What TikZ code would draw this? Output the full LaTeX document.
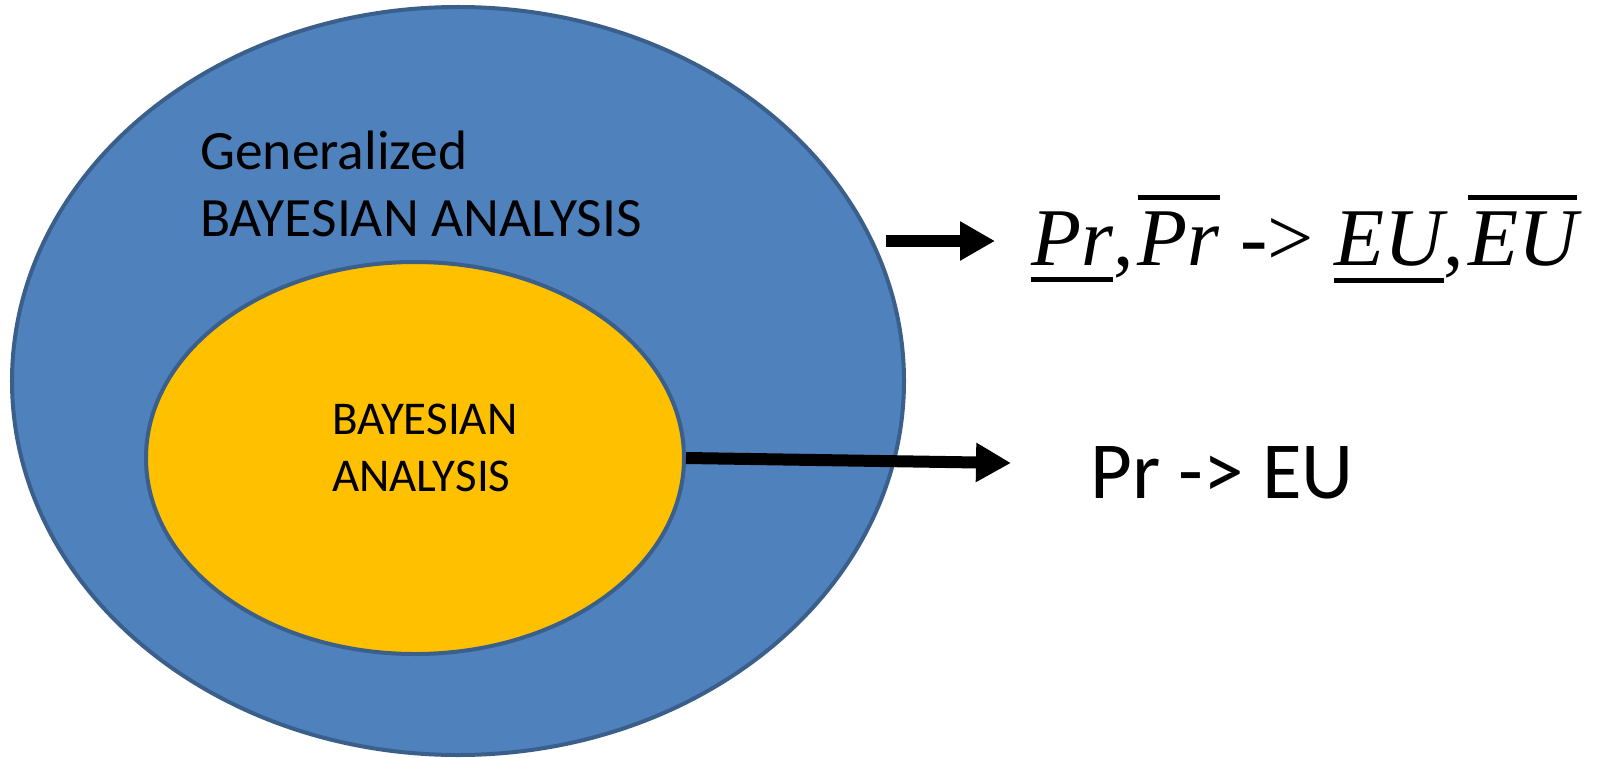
\documentclass[tikz,border=0pt]{standalone}
\usepackage{fontspec}
\setmainfont{Carlito}
\newfontfamily\formulafont{Liberation Serif}
\usetikzlibrary{shapes.geometric,arrows.meta}

\definecolor{outerblue}{HTML}{4F81BD}
\definecolor{innergold}{HTML}{FFC000}
\definecolor{rimblue}{HTML}{3A5F8B}

% bars under / over a piece of the formula
\newcommand\lowbar[1]{\vtop{\hbox{#1}\kern 12bp\hrule height 5bp}}
\newcommand\highbar[1]{\vbox{\hrule height 5bp\kern 11bp\hbox{#1}}}

\tikzset{
  setfield/.style={ellipse, draw=rimblue, line width=4bp, inner sep=0pt},
  fatarrow/.style={line width=12bp, -{Triangle[length=35bp,width=37bp]}},
  label/.style={inner sep=0pt, align=left, font=#1},
}

\begin{document}
\begin{tikzpicture}[x=1bp, y=-1bp]
\useasboundingbox (0,0) rectangle (1597,758);

% nested sets
\node[setfield, fill=outerblue, minimum width=892bp, minimum height=748bp] (outer) at (458,381) {};
\node[setfield, fill=innergold, minimum width=538bp, minimum height=392bp] (inner) at (415,458) {};

% set labels (base anchor sits on the last line)
\node[label={\fontsize{55.5bp}{66.7bp}\selectfont}, anchor=base west] (gen) at (200,236)
  {Generalized\\BAYESIAN ANALYSIS};
\node[label={\fontsize{47bp}{57bp}\selectfont}, anchor=base west] (bay) at (332,491)
  {BAYESIAN\\ANALYSIS};

% results
\node[inner sep=0pt, anchor=base west] (gres) at (1031,265)
  {\fontsize{82bp}{90bp}\formulafont
   \lowbar{\itshape Pr},\kern4bp\highbar{\itshape Pr} -> \lowbar{\itshape EU},\kern4bp\highbar{\itshape EU}};
\node[inner sep=0pt, anchor=base west] (bres) at (1090,498)
  {\fontsize{81bp}{90bp}\selectfont Pr -> EU};

% arrows
\coordinate (ga) at (886,241);
\coordinate (gb) at (995,241);
\coordinate (bb) at (1011,463);
\draw[fatarrow] (ga) -- (gb);
\draw[fatarrow] (inner.east) -- (bb);
\end{tikzpicture}
\end{document}
